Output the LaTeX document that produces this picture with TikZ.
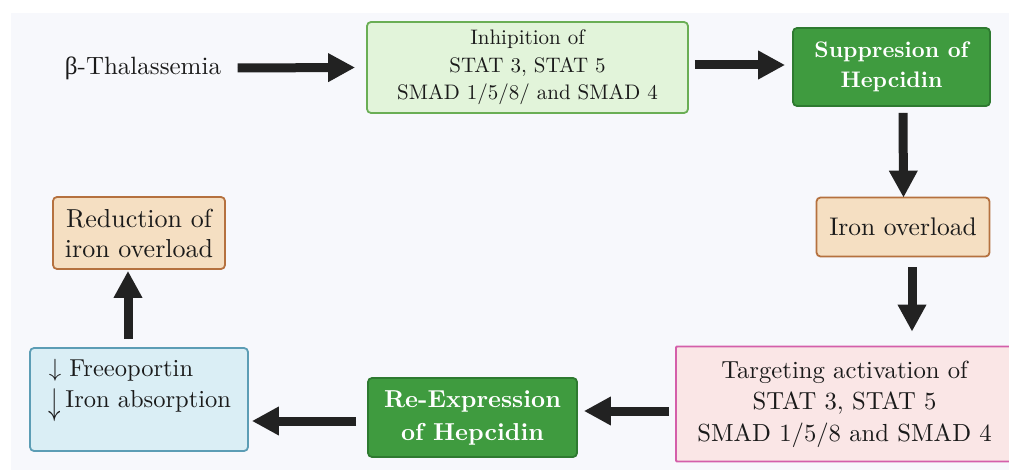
\documentclass[tikz,border=0pt]{standalone}
\usepackage{fontspec}
\setmainfont{lmroman10-regular.otf}[BoldFont=lmroman10-bold.otf]
\usetikzlibrary{arrows.meta,calc}
\newfontfamily\grkfont{Liberation Serif}
\definecolor{panel}{HTML}{F7F8FC}
\definecolor{lgfill}{HTML}{E2F4DA}
\definecolor{lgline}{HTML}{6AAE55}
\definecolor{dgfill}{HTML}{3F9B3F}
\definecolor{dgline}{HTML}{2E7A30}
\definecolor{tanfill}{HTML}{F5DFC2}
\definecolor{tanline}{HTML}{B5713F}
\definecolor{pkfill}{HTML}{FAE6E6}
\definecolor{pkline}{HTML}{D45FAA}
\definecolor{blfill}{HTML}{DAEEF5}
\definecolor{blline}{HTML}{5C9DB5}
\definecolor{arrowc}{HTML}{222222}
\definecolor{txt}{HTML}{1A1A1A}
\tikzset{
  box/.style={draw, line width=1.8pt, rounded corners=4pt, inner sep=0pt, align=center, text=txt},
  lgbox/.style={box, fill=lgfill, draw=lgline},
  dgbox/.style={box, fill=dgfill, draw=dgline, text=white},
  tanbox/.style={box, fill=tanfill, draw=tanline},
  pkbox/.style={box, fill=pkfill, draw=pkline, rounded corners=1pt},
  blbox/.style={box, fill=blfill, draw=blline},
  bigarrow/.style={draw=arrowc, fill=arrowc, line width=9pt, -{Triangle[length=27pt,width=27pt]}}
}
\begin{document}
\begin{tikzpicture}[x=1pt,y=-1pt]
\clip (0,0) rectangle (1009,470);
\fill[white] (0,0) rectangle (1009,470);
\fill[panel] (11,13) rectangle (1009,470);

\node[text=txt, font=\fontsize{25}{30}\selectfont] (thal) at (143,68) {{\grkfont β}-Thalassemia};

\node[lgbox, minimum width=321pt, minimum height=91pt, font=\fontsize{21}{27.5}\selectfont]
  (inh) at (527.5,67.5) {Inhipition of\\STAT 3, STAT 5\\ SMAD 1/5/8/ and SMAD 4};

\node[dgbox, minimum width=197pt, minimum height=78pt, font=\fontsize{22.5}{30}\selectfont\bfseries]
  (sup) at (891.5,67) {Suppresion of\\Hepcidin};

\node[tanbox, minimum width=173pt, minimum height=59pt, font=\fontsize{25.5}{30}\selectfont]
  (iron) at (903,227) {Iron overload};

\node[pkbox, minimum width=337pt, minimum height=115pt, font=\fontsize{24.7}{31.5}\selectfont]
  (targ) at (844.5,404) {Targeting activation of\\STAT 3, STAT 5\\SMAD 1/5/8 and SMAD 4};

\node[dgbox, minimum width=209pt, minimum height=79pt, font=\fontsize{24.5}{33}\selectfont\bfseries]
  (reexp) at (472.5,417.5) {Re-Expression\\of Hepcidin};

\node[blbox, minimum width=218pt, minimum height=103pt] (blue) at (139,399.5) {};
\node[align=left, inner sep=0pt, text=txt, font=\fontsize{24.5}{31}\selectfont] (bluetext) at (140,390)
  {$\downarrow$ Freeoportin\\\raisebox{-7pt}{\scalebox{1}[1.5]{$\downarrow$}}\,Iron absorption};

\node[tanbox, minimum width=172pt, minimum height=72pt, font=\fontsize{26}{30}\selectfont]
  (red) at (139,233) {Reduction of\\iron overload};

\draw[bigarrow] ($(thal.east)+(13,0)$) -- ($(inh.west)+(-11,0)$);
\draw[bigarrow] ($(inh.east)+(6,-2.5)$) -- ($(sup.west)+(-7,-2)$);
\draw[bigarrow] ($(sup.south)+(11.5,6)$) -- ($(iron.north)+(0.5,1)$);
\draw[bigarrow] ($(iron.south)+(9,10)$) -- ($(targ.north)+(67.5,-14)$);
\draw[bigarrow] ($(targ.west)+(-6,7)$) -- ($(reexp.east)+(6,-6.5)$);
\draw[bigarrow] ($(reexp.west)+(-11,3.5)$) -- ($(blue.east)+(3,21.5)$);
\draw[bigarrow] ($(blue.north)+(-11,-8)$) -- ($(red.south)+(-11,1)$);
\end{tikzpicture}
\end{document}
